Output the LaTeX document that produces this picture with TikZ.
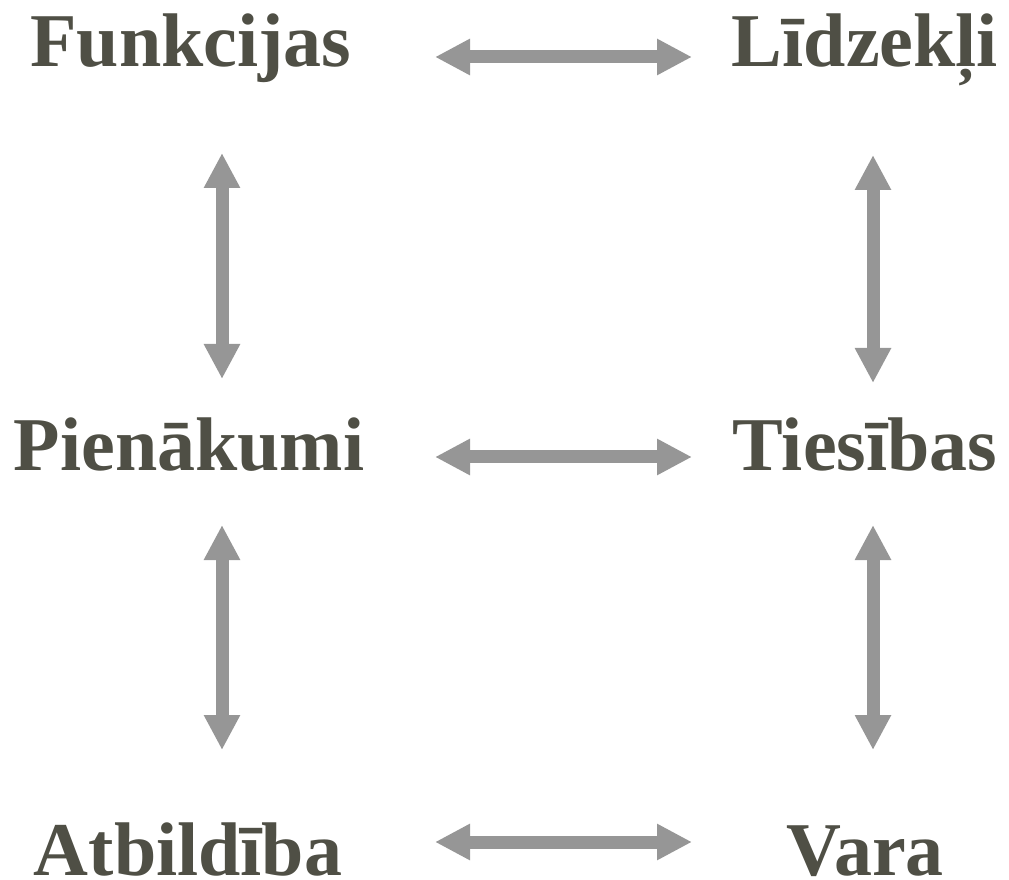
\documentclass[tikz,border=0pt]{standalone}
\usepackage{fontspec}
\setmainfont{Liberation Serif}
\usetikzlibrary{arrows.meta}
\definecolor{txt}{HTML}{4F4F45}
\definecolor{arr}{HTML}{969696}
\begin{document}
\begin{tikzpicture}[x=1pt,y=1pt,
  lbl/.style={anchor=base,inner sep=0pt,text=txt,font=\fontsize{76}{80}\selectfont\bfseries},
  dbl/.style={draw=arr,line width=13pt,{Triangle[width=34pt,length=35pt]}-{Triangle[width=34pt,length=35pt]}}]
\useasboundingbox (0,0) rectangle (1009,879);
\node[lbl] (f) at (191,812) {Funkcijas};
\node[lbl] (l) at (865,812) {Līdzekļi};
\node[lbl] (p) at (189,408) {Pienākumi};
\node[lbl] (t) at (865,408) {Tiesības};
\node[lbl] (a) at (188,4) {Atbildība};
\node[lbl] (v) at (865,4) {Vara};
% arrow end points
\coordinate (h1a) at (435,822); \coordinate (h1b) at (692,822);
\coordinate (h2a) at (435,422); \coordinate (h2b) at (692,422);
\coordinate (h3a) at (435,37);  \coordinate (h3b) at (692,37);
\coordinate (v1a) at (222,726); \coordinate (v1b) at (222,500);
\coordinate (v2a) at (873,724); \coordinate (v2b) at (873,496);
\coordinate (v3a) at (222,354); \coordinate (v3b) at (222,129);
\coordinate (v4a) at (873,354); \coordinate (v4b) at (873,129);
\draw[dbl] (h1a) -- (h1b);
\draw[dbl] (h2a) -- (h2b);
\draw[dbl] (h3a) -- (h3b);
\draw[dbl] (v1a) -- (v1b);
\draw[dbl] (v2a) -- (v2b);
\draw[dbl] (v3a) -- (v3b);
\draw[dbl] (v4a) -- (v4b);
\end{tikzpicture}
\end{document}
